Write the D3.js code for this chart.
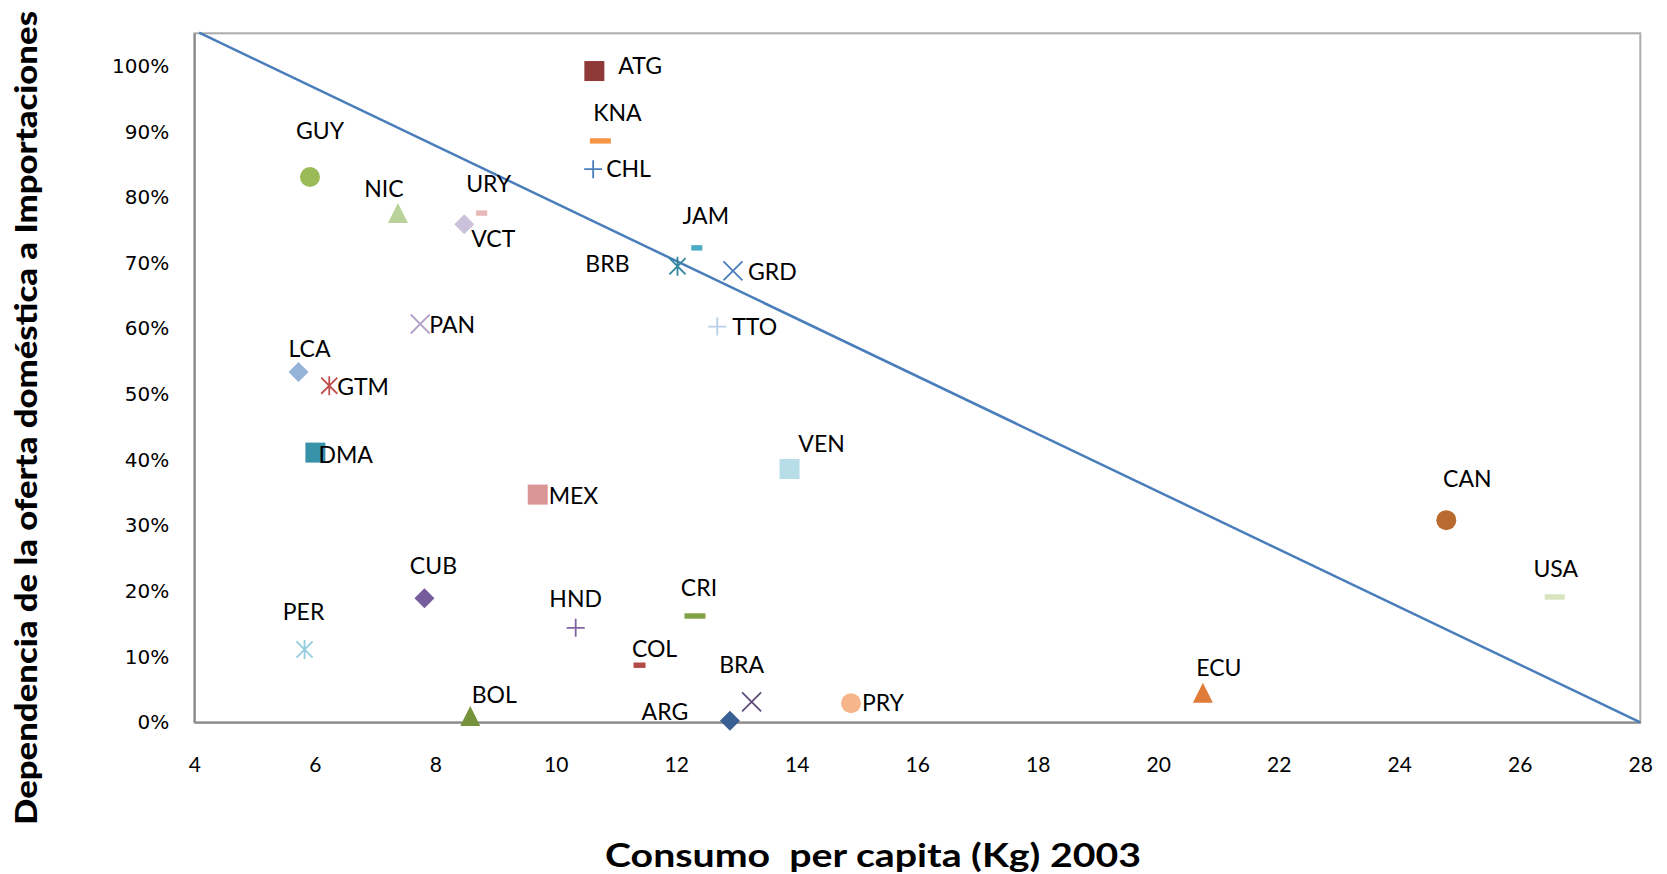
<!DOCTYPE html>
<html>
<head>
<meta charset="utf-8">
<script src="https://cdn.jsdelivr.net/npm/d3@7"></script>
<style>
  body { margin: 0; background: #fff; }
  svg { display: block; }
</style>
</head>
<body>
<div id="chart"></div>
<script>
// Datos
var paises = ["ATG", "KNA", "CHL", "GUY", "NIC", "URY", "VCT", "JAM", "BRB", "GRD",
              "PAN", "TTO", "LCA", "GTM", "DMA", "MEX", "VEN", "CAN", "USA", "CUB",
              "PER", "HND", "CRI", "COL", "BRA", "ARG", "PRY", "ECU", "BOL"];
var consumo = [10.64, 10.74, 10.62, 5.92, 7.38, 8.77, 8.48, 12.34, 12.02, 12.94,
               7.75, 12.68, 5.73, 6.24, 6.01, 9.70, 13.88, 24.78, 26.58, 7.82,
               5.83, 10.33, 12.31, 11.39, 13.25, 12.89, 14.90, 20.74, 8.58];
var dependencia = [0.9925, 0.886, 0.843, 0.831, 0.776, 0.776, 0.759, 0.723, 0.695, 0.688,
                   0.607, 0.603, 0.534, 0.513, 0.411, 0.347, 0.386, 0.308, 0.191, 0.189,
                   0.111, 0.144, 0.162, 0.087, 0.031, 0.0024, 0.029, 0.045, 0.0096];

// linea de tendencia (dos extremos)
var trendX = [4.08, 28];
var trendY = [1.051, 0];

var xTicks = [4, 6, 8, 10, 12, 14, 16, 18, 20, 22, 24, 26, 28];
var yTicks = [0, 0.1, 0.2, 0.3, 0.4, 0.5, 0.6, 0.7, 0.8, 0.9, 1.0];
var xTitle = "Consumo  per capita (Kg) 2003";
var yTitle = "Dependencia de la oferta doméstica a Importaciones";

// aspecto del marcador: [forma, color, tamaño]
var estilo = {
  ATG: ["square", "#8f3a38", 20], KNA: ["dash", "#f79646", 21], CHL: ["plus", "#4a7ebb", 18],
  GUY: ["circle", "#9bbb59", 20], NIC: ["triangle", "#b8d29a", 20], URY: ["dash", "#e6b9b8", 11],
  VCT: ["diamond", "#ccc1da", 20], JAM: ["dash", "#4bacc6", 11], BRB: ["star", "#31859c", 19],
  GRD: ["x", "#4a7ebb", 19], PAN: ["x", "#b3a2c7", 19], TTO: ["plus", "#b9cde5", 18],
  LCA: ["diamond", "#95b3d7", 20], GTM: ["star", "#c0504d", 19], DMA: ["square", "#3892aa", 20],
  MEX: ["square", "#d99694", 20], VEN: ["square", "#b7dee8", 20], CAN: ["circle", "#b96a2f", 20],
  USA: ["dash", "#d7e4bd", 20], CUB: ["diamond", "#775c9c", 20], PER: ["star", "#93cddd", 19],
  HND: ["plus", "#8064a2", 18], CRI: ["dash", "#82a044", 21], COL: ["dash", "#b34a47", 12],
  BRA: ["x", "#604a7b", 19], ARG: ["diamond", "#3a5f92", 20], PRY: ["circle", "#f7b58c", 20],
  ECU: ["triangle", "#e07c39", 20], BOL: ["triangle", "#76923c", 20]
};

// posicion de la etiqueta: [anclaje, dx, dy]
var etiqueta = {
  ATG: ["start", 24, -5], KNA: ["middle", 17, -28], CHL: ["start", 13, 0],
  GUY: ["middle", 10, -46], NIC: ["middle", -14, -24], URY: ["middle", 7, -29],
  VCT: ["start", 7, 14], JAM: ["middle", 9, -32], BRB: ["end", -48, -3],
  GRD: ["start", 15, 1], PAN: ["start", 9, 1], TTO: ["start", 15, 0],
  LCA: ["middle", 11, -23], GTM: ["start", 8, 1], DMA: ["start", 3, 2],
  MEX: ["start", 11, 1], VEN: ["middle", 32, -25], CAN: ["middle", 21, -41],
  USA: ["middle", 1, -28], CUB: ["middle", 9, -33], PER: ["middle", -1, -38],
  HND: ["middle", 0, -29], CRI: ["middle", 4, -28], COL: ["middle", 15, -16],
  BRA: ["middle", -10, -37], ARG: ["middle", -65, -9], PRY: ["start", 11, -1],
  ECU: ["middle", 16, -25], BOL: ["middle", 24, -21]
};

var W = 1667, H = 874;
var margin = { top: 33.3, right: 26.7, bottom: 151.7, left: 194.3 };
var width = W - margin.left - margin.right,
    height = H - margin.top - margin.bottom;

var svg = d3.select("#chart").append("svg")
  .attr("width", W)
  .attr("height", H);

var g = svg.append("g")
  .attr("transform", "translate(" + margin.left + "," + margin.top + ")");

var x = d3.scaleLinear().domain([4, 28]).range([0, width]);
var y = d3.scaleLinear().domain([0, 1.05]).range([height, 0]);

// borde del area de trazado
g.append("rect")
  .attr("width", width)
  .attr("height", height)
  .attr("fill", "none")
  .attr("stroke", "#acacac")
  .attr("stroke-width", 2);

// ejes
var xAxis = g.append("g")
  .attr("transform", "translate(0," + height + ")")
  .call(d3.axisBottom(x).tickValues(xTicks).tickSize(0).tickPadding(35).tickFormat(d3.format("d")));
xAxis.select(".domain").attr("stroke", "#8a8a8a").attr("stroke-width", 2);
xAxis.selectAll("text")
  .attr("fill", "#000")
  .style("font-family", "Lato, 'Open Sans', sans-serif")
  .style("font-size", "21px");

var yAxis = g.append("g")
  .call(d3.axisLeft(y).tickValues(yTicks).tickSize(0).tickPadding(25).tickFormat(d3.format(".0%")));
yAxis.select(".domain").attr("stroke", "#8a8a8a").attr("stroke-width", 2);
yAxis.selectAll("text")
  .attr("fill", "#000")
  .style("font-family", "'DejaVu Sans', Verdana, sans-serif")
  .style("font-size", "20px");

// linea de tendencia
var trend = trendX.map(function(v, i) { return [v, trendY[i]]; });
g.append("path")
  .datum(trend)
  .attr("fill", "none")
  .attr("stroke", "#4a7ebb")
  .attr("stroke-width", 2.5)
  .attr("d", d3.line().x(function(d) { return x(d[0]); }).y(function(d) { return y(d[1]); }));

// puntos
var puntos = paises.map(function(p, i) {
  return { code: p, cx: consumo[i], dep: dependencia[i] };
});

function dibujar(sel, forma, color, s) {
  var h = s / 2;
  if (forma === "square") {
    sel.append("rect").attr("x", -h).attr("y", -h).attr("width", s).attr("height", s).attr("fill", color);
  } else if (forma === "circle") {
    sel.append("circle").attr("r", h).attr("fill", color);
  } else if (forma === "triangle") {
    sel.append("path").attr("d", "M0," + (-h) + "L" + h + "," + h + "L" + (-h) + "," + h + "Z").attr("fill", color);
  } else if (forma === "diamond") {
    sel.append("path").attr("d", "M0," + (-h) + "L" + h + ",0L0," + h + "L" + (-h) + ",0Z").attr("fill", color);
  } else if (forma === "dash") {
    sel.append("rect").attr("x", -h).attr("y", -2.7).attr("width", s).attr("height", 5.4).attr("fill", color);
  } else {
    var p = "";
    if (forma === "plus" || forma === "star") {
      p += "M0," + (-h) + "L0," + h;
    }
    if (forma === "plus") {
      p += "M" + (-h) + ",0L" + h + ",0";
    }
    if (forma === "x" || forma === "star") {
      var k = forma === "star" ? h * 0.85 : h;
      p += "M" + (-k) + "," + (-k) + "L" + k + "," + k + "M" + (-k) + "," + k + "L" + k + "," + (-k);
    }
    sel.append("path").attr("d", p).attr("fill", "none").attr("stroke", color).attr("stroke-width", 1.8);
  }
}

var mark = g.selectAll(".punto")
  .data(puntos)
  .enter()
  .append("g")
  .attr("class", "punto")
  .attr("transform", function(d) { return "translate(" + x(d.cx) + "," + y(d.dep) + ")"; });

mark.each(function(d) {
  var e = estilo[d.code];
  dibujar(d3.select(this), e[0], e[1], e[2]);
});

// etiquetas
g.selectAll(".etiqueta")
  .data(puntos)
  .enter()
  .append("text")
  .attr("class", "etiqueta")
  .attr("x", function(d) { return x(d.cx) + etiqueta[d.code][1]; })
  .attr("y", function(d) { return y(d.dep) + etiqueta[d.code][2]; })
  .attr("dy", "0.36em")
  .attr("text-anchor", function(d) { return etiqueta[d.code][0]; })
  .style("font-family", "Lato, 'Open Sans', sans-serif")
  .style("font-size", "23px")
  .attr("fill", "#000")
  .text(function(d) { return d.code; });

// titulos
svg.append("text")
  .attr("x", 605)
  .attr("y", 866.7)
  .attr("textLength", 536)
  .attr("lengthAdjust", "spacingAndGlyphs")
  .style("white-space", "pre")
  .style("font-family", "Lato, 'Open Sans', sans-serif")
  .style("font-weight", "bold")
  .style("font-size", "33px")
  .attr("fill", "#000")
  .text(xTitle);

svg.append("text")
  .attr("transform", "translate(37,825) rotate(-90)")
  .attr("x", 0)
  .attr("y", 0)
  .attr("textLength", 814)
  .attr("lengthAdjust", "spacingAndGlyphs")
  .style("font-family", "Lato, 'Open Sans', sans-serif")
  .style("font-weight", "900")
  .style("font-size", "30px")
  .attr("fill", "#000")
  .text(yTitle);
</script>
</body>
</html>
